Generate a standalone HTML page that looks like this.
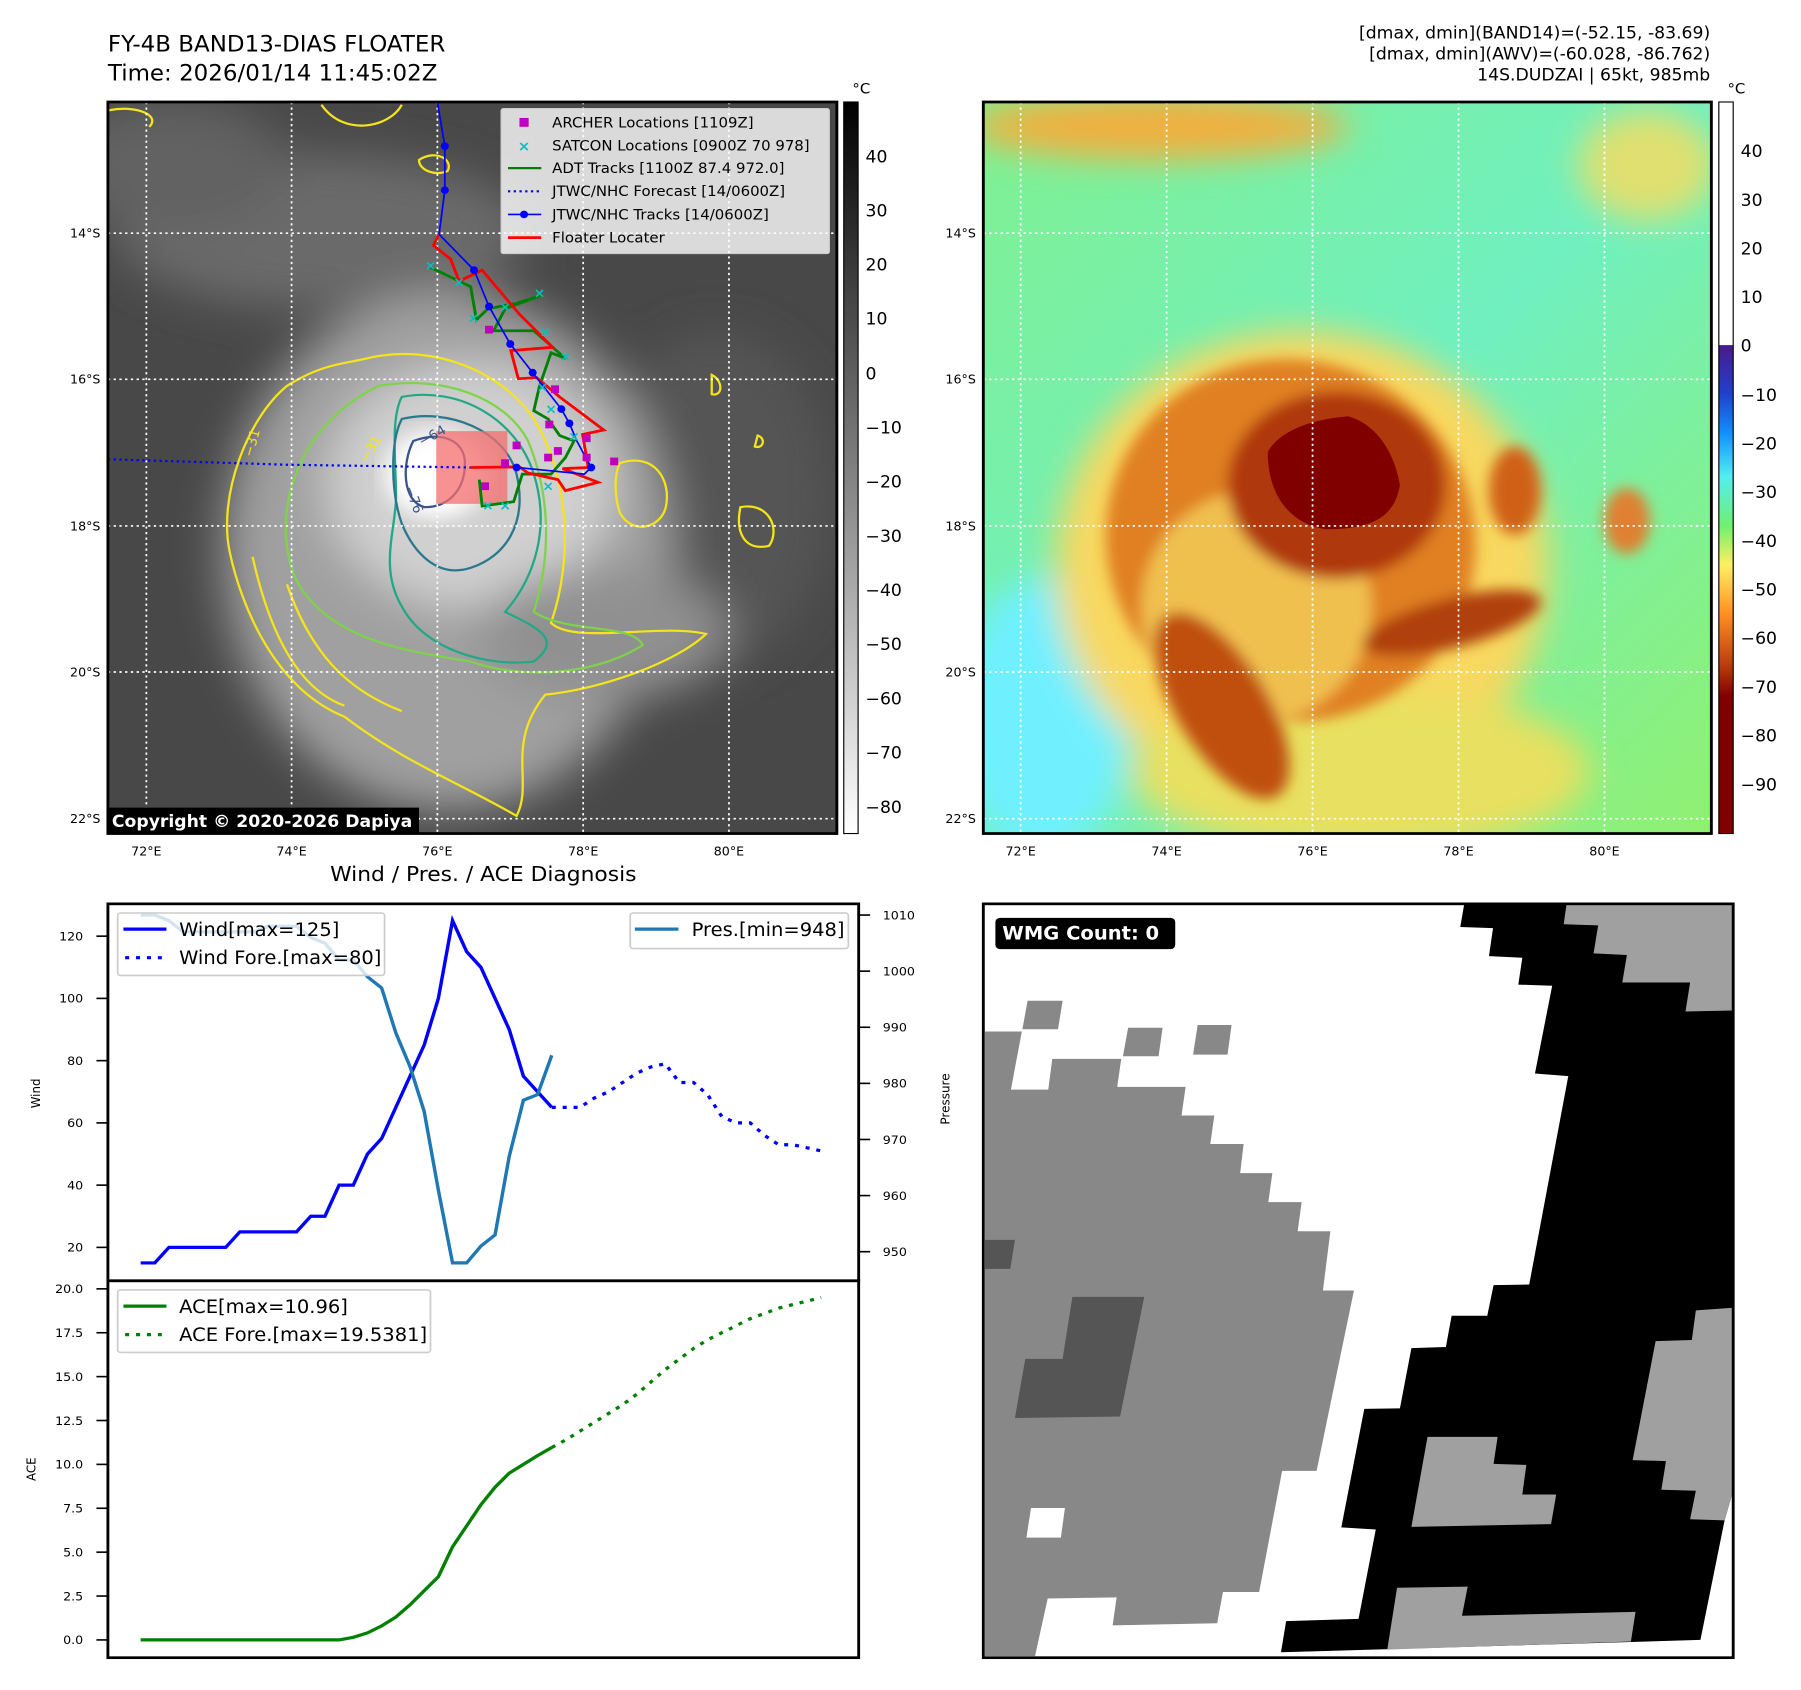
<!DOCTYPE html>
<html><head><meta charset="utf-8">
<style>
html,body{margin:0;padding:0;background:#fff;}
body{width:1801px;height:1690px;position:relative;overflow:hidden;font-family:"Liberation Sans","DejaVu Sans",sans-serif;}
svg{position:absolute;overflow:visible;}
text{font-family:"DejaVu Sans","Liberation Sans",sans-serif;}
</style></head>
<body>

<!-- ========== TOP-LEFT MAP ========== -->
<svg style="left:0;top:0" width="900" height="860" viewBox="0 0 1568 1560" preserveAspectRatio="none">
  <defs>
    <filter id="blur1" x="-20%" y="-20%" width="140%" height="140%"><feGaussianBlur stdDeviation="40"/></filter>
    <filter id="blur2"><feGaussianBlur stdDeviation="18"/></filter>
    <clipPath id="clipL"><rect x="188" y="185" width="1270" height="1327"/></clipPath>
    <linearGradient id="cbGray" x1="0" y1="0" x2="0" y2="1"><stop offset="0" stop-color="#000"/><stop offset="1" stop-color="#fff"/></linearGradient>
  </defs>
  <text x="188" y="93" font-size="40" fill="#000">FY-4B BAND13-DIAS FLOATER</text>
  <text x="188" y="146" font-size="40" fill="#000">Time: 2026/01/14 11:45:02Z</text>
  <g clip-path="url(#clipL)">
    <rect x="188" y="185" width="1270" height="1327" fill="#484848"/>
    <g filter="url(#blur1)">
      <ellipse cx="560" cy="420" rx="360" ry="140" fill="#6a6a6a"/>
      <ellipse cx="300" cy="300" rx="200" ry="120" fill="#626262"/>
      <ellipse cx="1250" cy="900" rx="200" ry="300" fill="#555"/>
      <ellipse cx="780" cy="1000" rx="390" ry="470" fill="#a0a0a0"/>
      <ellipse cx="820" cy="880" rx="250" ry="220" fill="#d0d0d0"/>
      <ellipse cx="1050" cy="1150" rx="220" ry="120" fill="#909090"/>
    </g>
    <g filter="url(#blur2)">
      <ellipse cx="760" cy="860" rx="90" ry="80" fill="#fff"/>
    </g>
    <g fill="none" stroke-width="4">
      <path d="M640,650 C760,620 880,680 930,760 C990,860 1000,1010 960,1130 C1000,1170 1150,1130 1230,1150 C1180,1200 1050,1250 950,1260 C880,1350 930,1420 900,1480 C800,1420 700,1380 600,1300 C480,1250 420,1100 400,1000 C380,900 430,760 500,700 C560,660 600,660 640,650 Z" stroke="#f5e41a"/>
      <path d="M440,1010 C470,1150 520,1250 600,1280 M500,1060 C540,1180 600,1250 700,1290" stroke="#f5e41a"/>
      <path d="M660,700 C770,680 880,720 920,800 C960,900 960,1010 930,1110 C990,1150 1100,1130 1120,1170 C1030,1230 900,1230 820,1200 C700,1180 580,1160 520,1060 C470,960 500,780 660,700 Z" stroke="#7ed34a"/>
      <path d="M700,720 C800,700 900,760 930,860 C960,960 930,1050 880,1110 C940,1140 980,1160 930,1200 C850,1210 740,1180 700,1100 C660,1030 690,960 690,900 C690,840 680,760 700,720 Z" stroke="#22a884"/>
      <path d="M700,760 C780,740 880,780 900,860 C920,950 880,1010 820,1030 C760,1050 720,1000 700,950 C680,890 680,800 700,760 Z" stroke="#2a788e"/>
      <path d="M720,800 C770,780 810,800 810,840 C810,890 780,920 740,920 C700,910 700,840 720,800 Z" stroke="#3b528b"/>
      <path d="M1080,840 C1140,820 1170,870 1160,920 C1150,960 1100,970 1080,930 C1070,900 1070,860 1080,840 Z" stroke="#f5e41a"/>
      <path d="M1290,920 C1340,910 1360,960 1340,990 C1300,1000 1280,970 1290,920 Z" stroke="#f5e41a"/>
      <path d="M190,200 C240,190 280,210 260,230 M560,190 C600,250 680,230 700,190 M1240,680 C1260,690 1260,720 1240,715 Z M1320,790 C1335,795 1330,815 1315,810 Z" stroke="#f5e41a"/>
      <path d="M730,290 C760,270 790,290 780,310 C760,320 730,310 730,290 Z" stroke="#f5e41a"/>
    </g>
    <g stroke="#fff" stroke-width="3" stroke-dasharray="4 6">
      <line x1="255" y1="185" x2="255" y2="1512"/><line x1="508" y1="185" x2="508" y2="1512"/>
      <line x1="762" y1="185" x2="762" y2="1512"/><line x1="1016" y1="185" x2="1016" y2="1512"/>
      <line x1="1270" y1="185" x2="1270" y2="1512"/>
      <line x1="188" y1="423" x2="1458" y2="423"/><line x1="188" y1="688" x2="1458" y2="688"/>
      <line x1="188" y1="954" x2="1458" y2="954"/><line x1="188" y1="1219" x2="1458" y2="1219"/>
      <line x1="188" y1="1485" x2="1458" y2="1485"/>
    </g>
    <rect x="760" y="782" width="124" height="132" fill="rgba(245,110,110,0.75)"/>
    <polyline points="188,833 500,843 820,848" fill="none" stroke="#0000ff" stroke-width="4" stroke-dasharray="4 6"/>
    <polyline points="750,485 820,520 830,580 850,560 900,550 945,535 880,560 860,600 930,600 985,650 960,640 940,700 930,745 955,760 975,790 1000,800 985,830 960,860 910,860 895,910 840,918 835,870" fill="none" stroke="#008000" stroke-width="5"/>
    <polyline points="765,425 755,445 785,470 800,510 840,490 905,570 963,630 890,636 903,687 935,685 975,720 1052,780 1015,788 1025,848 980,850 1042,875 985,890 972,870 920,858 905,847 820,848" fill="none" stroke="#ff0000" stroke-width="5"/>
    <polyline points="762,185 775,265 775,345 765,425 826,490 852,556 889,624 928,676 978,742 992,768 1005,800 1030,848 1018,860 900,848" fill="none" stroke="#0000ff" stroke-width="3"/>
    <g fill="#0000ff">
      <circle cx="775" cy="265" r="7"/><circle cx="775" cy="345" r="7"/><circle cx="826" cy="490" r="7"/><circle cx="852" cy="556" r="7"/><circle cx="889" cy="624" r="7"/><circle cx="928" cy="676" r="7"/><circle cx="978" cy="742" r="7"/><circle cx="992" cy="768" r="7"/><circle cx="1030" cy="848" r="7"/><circle cx="900" cy="848" r="7"/>
    </g>
    <g fill="#00c0c0" font-size="24" font-weight="bold" text-anchor="middle">
      <text x="750" y="490">×</text><text x="800" y="520">×</text><text x="825" y="585">×</text><text x="880" y="565">×</text><text x="940" y="540">×</text><text x="950" y="610">×</text><text x="985" y="655">×</text><text x="945" y="710">×</text><text x="960" y="750">×</text><text x="1000" y="800">×</text><text x="955" y="890">×</text><text x="850" y="925">×</text><text x="880" y="925">×</text>
    </g>
    <g fill="#c000c0">
      <rect x="845" y="591" width="14" height="14"/><rect x="960" y="699" width="14" height="14"/><rect x="950" y="763" width="14" height="14"/><rect x="893" y="801" width="14" height="14"/><rect x="965" y="811" width="14" height="14"/><rect x="948" y="823" width="14" height="14"/><rect x="873" y="833" width="14" height="14"/><rect x="838" y="875" width="14" height="14"/><rect x="1015" y="788" width="14" height="14"/><rect x="1063" y="830" width="14" height="14"/><rect x="1015" y="823" width="14" height="14"/>
    </g>
    <text x="735" y="810" font-size="24" fill="#3b528b" transform="rotate(-30 735 810)">−64</text>
    <text x="705" y="885" font-size="24" fill="#3b528b" transform="rotate(70 705 885)">−76</text>
    <text x="440" y="830" font-size="24" fill="#f5e41a" transform="rotate(-75 440 830)">−31</text>
    <text x="640" y="840" font-size="24" fill="#f5e41a" transform="rotate(-60 640 840)">−31</text>
    <g>
      <rect x="873" y="197" width="572" height="263" fill="rgba(255,255,255,0.8)" stroke="#ccc" stroke-width="2" rx="4"/>
      <rect x="905" y="214" width="16" height="16" fill="#c000c0"/>
      <text x="913" y="274" font-size="26" font-weight="bold" fill="#00c0c0" text-anchor="middle">×</text>
      <line x1="885" y1="305" x2="943" y2="305" stroke="#008000" stroke-width="4"/>
      <line x1="885" y1="347" x2="943" y2="347" stroke="#0000ff" stroke-width="4" stroke-dasharray="4 6"/>
      <line x1="885" y1="389" x2="943" y2="389" stroke="#0000ff" stroke-width="3"/><circle cx="913" cy="389" r="7" fill="#0000ff"/>
      <line x1="885" y1="431" x2="943" y2="431" stroke="#ff0000" stroke-width="5"/>
      <g font-size="26" fill="#000">
        <text x="962" y="231">ARCHER Locations [1109Z]</text>
        <text x="962" y="273">SATCON Locations [0900Z 70 978]</text>
        <text x="962" y="314">ADT Tracks [1100Z 87.4 972.0]</text>
        <text x="962" y="356">JTWC/NHC Forecast [14/0600Z]</text>
        <text x="962" y="398">JTWC/NHC Tracks [14/0600Z]</text>
        <text x="962" y="440">Floater Locater</text>
      </g>
    </g>
    <rect x="190" y="1465" width="540" height="50" fill="#000"/>
    <text x="195" y="1500" font-size="30" font-weight="bold" fill="#fff">Copyright © 2020-2026 Dapiya</text>
  </g>
  <rect x="188" y="185" width="1270" height="1327" fill="none" stroke="#000" stroke-width="5"/>
  <g font-size="22" fill="#000" text-anchor="end">
    <text x="175" y="431">14°S</text><text x="175" y="696">16°S</text><text x="175" y="962">18°S</text><text x="175" y="1227">20°S</text><text x="175" y="1493">22°S</text>
  </g>
  <g font-size="22" fill="#000" text-anchor="middle">
    <text x="255" y="1552">72°E</text><text x="508" y="1552">74°E</text><text x="762" y="1552">76°E</text><text x="1016" y="1552">78°E</text><text x="1270" y="1552">80°E</text>
  </g>
  <g>
    <rect x="1470" y="185" width="25" height="1327" fill="url(#cbGray)" stroke="#000" stroke-width="2"/>
    <text x="1485" y="170" font-size="26">°C</text>
    <g font-size="30" fill="#000">
      <text x="1508" y="295">40</text><text x="1508" y="393">30</text><text x="1508" y="491">20</text><text x="1508" y="589">10</text><text x="1508" y="688">0</text>
      <text x="1508" y="786">−10</text><text x="1508" y="884">−20</text><text x="1508" y="983">−30</text><text x="1508" y="1081">−40</text><text x="1508" y="1179">−50</text><text x="1508" y="1278">−60</text><text x="1508" y="1376">−70</text><text x="1508" y="1475">−80</text>
    </g>
  </g>
</svg>

<!-- ========== TOP-RIGHT MAP ========== -->
<svg style="left:900px;top:0" width="901" height="860" viewBox="0 0 1568 1560" preserveAspectRatio="none">
  <defs>
    <filter id="blur3" x="-30%" y="-30%" width="160%" height="160%"><feGaussianBlur stdDeviation="30"/></filter>
    <filter id="blur4" x="-30%" y="-30%" width="160%" height="160%"><feGaussianBlur stdDeviation="12"/></filter>
    <clipPath id="clipR"><rect x="145" y="185" width="1267" height="1327"/></clipPath>
    <linearGradient id="cbJet" x1="0" y1="0" x2="0" y2="1">
      <stop offset="0" stop-color="#4a1a8a"/><stop offset="0.1" stop-color="#2040d0"/><stop offset="0.18" stop-color="#1090ff"/>
      <stop offset="0.27" stop-color="#50f0f0"/><stop offset="0.37" stop-color="#70f070"/><stop offset="0.45" stop-color="#fff060"/>
      <stop offset="0.55" stop-color="#ff9020"/><stop offset="0.65" stop-color="#c04010"/><stop offset="0.72" stop-color="#800000"/><stop offset="1" stop-color="#800000"/>
    </linearGradient>
    <linearGradient id="bgR" x1="0" y1="0" x2="1" y2="1"><stop offset="0" stop-color="#80f090"/><stop offset="0.5" stop-color="#70f0c0"/><stop offset="1" stop-color="#90f070"/></linearGradient>
  </defs>
  <g font-size="30" fill="#000" text-anchor="end">
    <text x="1410" y="70">[dmax, dmin](BAND14)=(-52.15, -83.69)</text>
    <text x="1410" y="108">[dmax, dmin](AWV)=(-60.028, -86.762)</text>
    <text x="1410" y="146">14S.DUDZAI | 65kt, 985mb</text>
  </g>
  <g clip-path="url(#clipR)">
    <rect x="145" y="185" width="1267" height="1327" fill="url(#bgR)"/>
    <g filter="url(#blur3)">
      <ellipse cx="450" cy="230" rx="330" ry="60" fill="#f0b040"/>
      <ellipse cx="1300" cy="300" rx="120" ry="100" fill="#e0e070"/>
      <ellipse cx="250" cy="1300" rx="150" ry="250" fill="#70f0ff"/>
      <ellipse cx="700" cy="1030" rx="430" ry="430" fill="#f8d860"/>
      <ellipse cx="800" cy="1400" rx="400" ry="150" fill="#e8e060"/>
    </g>
    <g filter="url(#blur4)">
      <ellipse cx="680" cy="980" rx="320" ry="330" fill="#e08020" transform="rotate(-25 680 980)"/>
      <ellipse cx="620" cy="1100" rx="200" ry="210" fill="#f0c050"/>
      <ellipse cx="560" cy="1280" rx="80" ry="190" fill="#c05010" transform="rotate(-30 560 1280)"/>
      <ellipse cx="760" cy="880" rx="190" ry="170" fill="#b03808"/>
      <ellipse cx="1070" cy="890" rx="45" ry="80" fill="#d06018"/>
      <ellipse cx="1265" cy="945" rx="40" ry="60" fill="#e08030"/>
      <ellipse cx="960" cy="1130" rx="160" ry="45" fill="#b04010" transform="rotate(-15 960 1130)"/>
    </g>
    <path d="M640,820 C660,780 720,760 780,755 C830,770 860,820 870,880 C860,940 820,960 740,960 C680,950 640,900 640,820 Z" fill="#800000"/>
    <g stroke="#fff" stroke-width="3" stroke-dasharray="4 6">
      <line x1="210" y1="185" x2="210" y2="1512"/><line x1="464" y1="185" x2="464" y2="1512"/>
      <line x1="718" y1="185" x2="718" y2="1512"/><line x1="972" y1="185" x2="972" y2="1512"/>
      <line x1="1226" y1="185" x2="1226" y2="1512"/>
      <line x1="145" y1="423" x2="1412" y2="423"/><line x1="145" y1="688" x2="1412" y2="688"/>
      <line x1="145" y1="954" x2="1412" y2="954"/><line x1="145" y1="1219" x2="1412" y2="1219"/>
      <line x1="145" y1="1485" x2="1412" y2="1485"/>
    </g>
  </g>
  <rect x="145" y="185" width="1267" height="1327" fill="none" stroke="#000" stroke-width="5"/>
  <g font-size="22" fill="#000" text-anchor="end">
    <text x="132" y="431">14°S</text><text x="132" y="696">16°S</text><text x="132" y="962">18°S</text><text x="132" y="1227">20°S</text><text x="132" y="1493">22°S</text>
  </g>
  <g font-size="22" fill="#000" text-anchor="middle">
    <text x="210" y="1552">72°E</text><text x="464" y="1552">74°E</text><text x="718" y="1552">76°E</text><text x="972" y="1552">78°E</text><text x="1226" y="1552">80°E</text>
  </g>
  <g>
    <rect x="1425" y="185" width="25" height="441" fill="#fff"/>
    <rect x="1425" y="626" width="25" height="886" fill="url(#cbJet)"/>
    <rect x="1425" y="185" width="25" height="1327" fill="none" stroke="#000" stroke-width="2"/>
    <text x="1440" y="170" font-size="26">°C</text>
    <g font-size="30" fill="#000">
      <text x="1463" y="285">40</text><text x="1463" y="374">30</text><text x="1463" y="462">20</text><text x="1463" y="550">10</text><text x="1463" y="638">0</text>
      <text x="1463" y="727">−10</text><text x="1463" y="815">−20</text><text x="1463" y="903">−30</text><text x="1463" y="992">−40</text><text x="1463" y="1080">−50</text><text x="1463" y="1168">−60</text><text x="1463" y="1257">−70</text><text x="1463" y="1345">−80</text><text x="1463" y="1434">−90</text>
    </g>
  </g>
</svg>

<!-- ========== BOTTOM-LEFT CHART ========== -->
<svg id="diag" style="left:0;top:850px" width="900" height="840" viewBox="0 0 1568 1560" preserveAspectRatio="none">
  <text x="842" y="58" font-size="38" text-anchor="middle">Wind / Pres. / ACE Diagnosis</text>
  <g id="marks"></g>
  <rect x="188" y="100" width="1308" height="700" fill="none" stroke="#000" stroke-width="5"/>
  <rect x="188" y="800" width="1308" height="700" fill="none" stroke="#000" stroke-width="5"/>
  <g id="ticks" font-size="22" fill="#000"></g>
  <text x="70" y="452" font-size="22" text-anchor="middle" transform="rotate(-90 70 452)">Wind</text>
  <text x="62" y="1150" font-size="22" text-anchor="middle" transform="rotate(-90 62 1150)">ACE</text>
  <g>
    <rect x="205" y="117" width="465" height="116" fill="rgba(255,255,255,0.8)" stroke="#ccc" stroke-width="3" rx="5"/>
    <line x1="215" y1="147" x2="290" y2="147" stroke="#0000ff" stroke-width="6"/>
    <line x1="218" y1="200" x2="290" y2="200" stroke="#0000ff" stroke-width="6" stroke-dasharray="7 12"/>
    <text x="312" y="160" font-size="34">Wind[max=125]</text>
    <text x="312" y="212" font-size="34">Wind Fore.[max=80]</text>
  </g>
  <g>
    <rect x="1098" y="117" width="380" height="66" fill="rgba(255,255,255,0.8)" stroke="#ccc" stroke-width="3" rx="5"/>
    <line x1="1106" y1="147" x2="1182" y2="147" stroke="#1f77b4" stroke-width="6"/>
    <text x="1205" y="160" font-size="34">Pres.[min=948]</text>
  </g>
  <g>
    <rect x="205" y="817" width="545" height="116" fill="rgba(255,255,255,0.8)" stroke="#ccc" stroke-width="3" rx="5"/>
    <line x1="215" y1="847" x2="290" y2="847" stroke="#008000" stroke-width="6"/>
    <line x1="218" y1="900" x2="290" y2="900" stroke="#008000" stroke-width="6" stroke-dasharray="7 12"/>
    <text x="312" y="860" font-size="34">ACE[max=10.96]</text>
    <text x="312" y="912" font-size="34">ACE Fore.[max=19.5381]</text>
  </g>
</svg>
<div style="position:absolute;left:920px;top:1092px;font-size:12px;transform:rotate(-90deg);font-family:'DejaVu Sans',sans-serif;">Pressure</div>

<!-- ========== BOTTOM-RIGHT WMG ========== -->
<svg style="left:900px;top:850px" width="901" height="840" viewBox="0 0 1568 1560" preserveAspectRatio="none">
  <rect x="145" y="100" width="1305" height="1400" fill="#fff"/>
  <polygon fill="#888" points="148,337 212,337 193,445 258,445 265,388 385,388 378,440 497,440 490,493 547,493 540,546 598,546 592,600 648,600 641,654 699,654 692,708 749,708 736,818 790,818 725,1153 665,1153 625,1378 562,1378 552,1436 370,1440 377,1388 257,1390 235,1497 148,1497"/>
  <polygon fill="#888" points="222,280 283,280 275,333 213,333"/>
  <polygon fill="#888" points="397,330 457,330 450,383 388,383"/>
  <polygon fill="#888" points="518,325 577,325 570,380 510,380"/>
  <polygon fill="#555" points="148,724 200,724 192,778 148,778"/>
  <polygon fill="#555" points="300,830 425,830 383,1052 200,1055 218,945 283,945"/>
  <polygon fill="#fff" points="228,1222 287,1222 280,1277 220,1277"/>
  <polygon fill="#000" points="982,100 1450,100 1450,1190 1435,1245 1393,1467 663,1490 672,1432 798,1428 828,1262 768,1258 808,1038 870,1037 890,925 950,923 960,865 1022,865 1033,808 1095,807 1163,420 1105,415 1135,252 1076,250 1083,200 1025,197 1032,145 975,143"/>
  <polygon fill="#a0a0a0" points="1160,100 1450,100 1450,298 1367,300 1375,246 1257,246 1265,195 1207,192 1215,140 1155,138"/>
  <polygon fill="#a0a0a0" points="1385,855 1450,850 1450,1190 1435,1245 1375,1243 1385,1190 1325,1188 1333,1135 1275,1133 1315,912 1378,910"/>
  <polygon fill="#a0a0a0" points="918,1090 1040,1090 1033,1140 1090,1142 1083,1197 1142,1197 1133,1252 890,1257"/>
  <polygon fill="#a0a0a0" points="865,1370 988,1368 978,1422 1280,1415 1272,1470 848,1485"/>
  <rect x="145" y="100" width="1305" height="1400" fill="none" stroke="#000" stroke-width="5"/>
  <rect x="166" y="126" width="313" height="58" rx="8" fill="#000"/>
  <text x="178" y="166" font-size="34" font-weight="bold" fill="#fff">WMG Count: 0</text>
</svg>

<script>
// ---- chart data ----
const windObs = [15,15,20,20,20,20,20,25,25,25,25,25,30,30,40,40,50,55,65,75,85,100,125,115,110,100,90,75,70,65];
const windFore = [65,65,65,68,70,73,76,78,79,73,73,69,62,60,60,56,53,53,52,51];
const presObs = [1010,1010,1009,1007,1007,1007,1007,1007,1007,1008,1008,1008,1006,1005,1002,1002,999,997,989,983,975,961,948,948,951,953,967,977,978,985];
const aceObs = [0,0,0,0,0,0,0,0,0,0,0,0,0,0,0,0.15,0.4,0.8,1.3,2.0,2.8,3.6,5.3,6.5,7.7,8.7,9.5,10.0,10.5,10.96];
const aceFore = [10.96,11.4,11.9,12.4,12.9,13.4,14.0,14.7,15.4,16.0,16.6,17.1,17.5,17.9,18.3,18.6,18.9,19.1,19.3,19.5];
const windTicks = [20,40,60,80,100,120];
const presTicks = [950,960,970,980,990,1000,1010];
const aceTicks = [0,2.5,5,7.5,10,12.5,15,17.5,20];

const NS = 'http://www.w3.org/2000/svg';
const marks = document.getElementById('marks');
const ticks = document.getElementById('ticks');
const foreStart = windObs.length - 1;
function xs(i){ return 245 + i * 24.7; }
function yWind(v){ return 738 - (v - 20) * 5.78; }
function yPres(v){ return 746 - (v - 950) * 10.42; }
function yAce(v){ return 1467 - v * 32.6; }

function line(vals, offset, yf, color, dashed, name){
  const p = document.createElementNS(NS, 'polyline');
  p.setAttribute('points', vals.map((v, i) => xs(i + offset).toFixed(1) + ',' + yf(v).toFixed(1)).join(' '));
  p.setAttribute('fill', 'none');
  p.setAttribute('stroke', color);
  p.setAttribute('stroke-width', '6');
  if (dashed) p.setAttribute('stroke-dasharray', '7 12');
  
  
  marks.appendChild(p);
}
line(windObs, 0, yWind, '#0000ff', false, 'wind-line');
line(windFore, foreStart, yWind, '#0000ff', true, 'wind-forecast-line');
line(presObs, 0, yPres, '#1f77b4', false, 'pressure-line');
line(aceObs, 0, yAce, '#008000', false, 'ace-line');
line(aceFore, foreStart, yAce, '#008000', true, 'ace-forecast-line');

function tick(x1, x2, y, label, tx, anchor, name){
  const l = document.createElementNS(NS, 'line');
  l.setAttribute('x1', x1); l.setAttribute('x2', x2);
  l.setAttribute('y1', y); l.setAttribute('y2', y);
  l.setAttribute('stroke', '#000'); l.setAttribute('stroke-width', '3');
  ticks.appendChild(l);
  const t = document.createElementNS(NS, 'text');
  t.setAttribute('x', tx); t.setAttribute('y', y + 8);
  t.setAttribute('text-anchor', anchor);
  t.textContent = label;
  
  
  ticks.appendChild(t);
}
windTicks.forEach(v => tick(168, 188, yWind(v), String(v), 145, 'end', 'wind-tick-label'));
presTicks.forEach(v => tick(1496, 1516, yPres(v), String(v), 1538, 'start', 'pressure-tick-label'));
aceTicks.forEach(v => tick(168, 188, yAce(v), v.toFixed(1), 145, 'end', 'ace-tick-label'));
</script>
</body></html>
